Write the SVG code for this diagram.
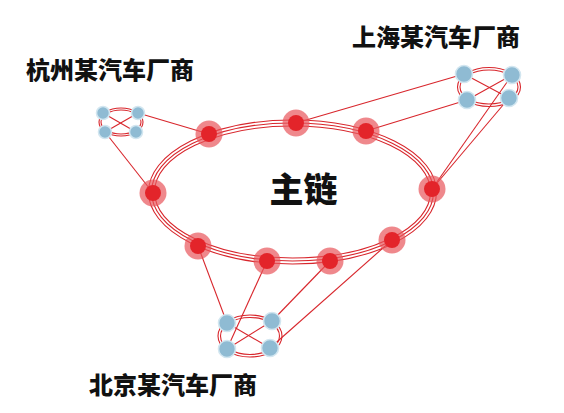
<svg xmlns="http://www.w3.org/2000/svg" width="564" height="413" viewBox="0 0 564 413">
<style>
.ln{stroke:#d8262c;stroke-width:1.1;fill:none}
.ring{stroke:#d8262c;stroke-width:1.1;fill:none}
.halo{fill:#e8555b;fill-opacity:0.7}
.core{fill:#e3242a}
.blue{fill:#8fbbd3;stroke:#d2e6f0;stroke-width:1.6}
.lbl{font-family:"Noto Sans CJK SC","Noto Sans CJK JP",sans-serif;font-weight:900;fill:#111}
</style>
<rect width="564" height="413" fill="#fff"/>
<g id="connectors">
<line class="ln" x1="138" y1="113" x2="209" y2="134"/>
<line class="ln" x1="105" y1="132" x2="153" y2="193"/>
<line class="ln" x1="464" y1="74" x2="296" y2="123"/>
<line class="ln" x1="467" y1="100" x2="366" y2="131"/>
<line class="ln" x1="512" y1="75" x2="432" y2="189"/>
<line class="ln" x1="509" y1="98" x2="432" y2="189"/>
<line class="ln" x1="227" y1="323" x2="198" y2="246"/>
<line class="ln" x1="227" y1="349" x2="267" y2="261"/>
<line class="ln" x1="272" y1="321" x2="330" y2="261"/>
<line class="ln" x1="270" y1="348" x2="392" y2="240"/>
</g>
<g id="main-chain">
<ellipse class="ring" cx="292.5" cy="192" rx="138" ry="66"/>
<ellipse class="ring" cx="292.5" cy="192" rx="141" ry="69"/>
<ellipse class="ring" cx="292.5" cy="192" rx="144" ry="72"/>
<g id="n1"><circle class="halo" cx="209" cy="134" r="13.5"/><circle class="core" cx="209" cy="134" r="8"/></g>
<g id="n2"><circle class="halo" cx="296" cy="123" r="13.5"/><circle class="core" cx="296" cy="123" r="8"/></g>
<g id="n3"><circle class="halo" cx="366" cy="131" r="13.5"/><circle class="core" cx="366" cy="131" r="8"/></g>
<g id="n4"><circle class="halo" cx="432" cy="189" r="13.5"/><circle class="core" cx="432" cy="189" r="8"/></g>
<g id="n5"><circle class="halo" cx="392" cy="240" r="13.5"/><circle class="core" cx="392" cy="240" r="8"/></g>
<g id="n6"><circle class="halo" cx="330" cy="261" r="13.5"/><circle class="core" cx="330" cy="261" r="8"/></g>
<g id="n7"><circle class="halo" cx="267" cy="261" r="13.5"/><circle class="core" cx="267" cy="261" r="8"/></g>
<g id="n8"><circle class="halo" cx="198" cy="246" r="13.5"/><circle class="core" cx="198" cy="246" r="8"/></g>
<g id="n9"><circle class="halo" cx="153" cy="193" r="13.5"/><circle class="core" cx="153" cy="193" r="8"/></g>
<text class="lbl" x="303.5" y="202" font-size="34" text-anchor="middle">主链</text>
</g>
<g id="hangzhou">
<ellipse class="ring" cx="121" cy="122" rx="20" ry="12"/>
<ellipse class="ring" cx="121" cy="122" rx="22" ry="14"/>
<line class="ln" x1="103" y1="113" x2="136" y2="132"/>
<line class="ln" x1="138" y1="113" x2="105" y2="132"/>
<circle class="blue" cx="103" cy="113" r="6.5"/>
<circle class="blue" cx="138" cy="113" r="6.5"/>
<circle class="blue" cx="105" cy="132" r="6.5"/>
<circle class="blue" cx="136" cy="132" r="6.5"/>
<text class="lbl" x="26" y="79" font-size="24">杭州某汽车厂商</text>
</g>
<g id="shanghai">
<ellipse class="ring" cx="489" cy="87" rx="29" ry="17"/>
<ellipse class="ring" cx="489" cy="87" rx="31.5" ry="19.5"/>
<line class="ln" x1="464" y1="74" x2="509" y2="98"/>
<line class="ln" x1="512" y1="75" x2="467" y2="100"/>
<circle class="blue" cx="464" cy="74" r="8.5"/>
<circle class="blue" cx="512" cy="75" r="8.5"/>
<circle class="blue" cx="467" cy="100" r="8.5"/>
<circle class="blue" cx="509" cy="98" r="8.5"/>
<text class="lbl" x="352" y="46" font-size="24">上海某汽车厂商</text>
</g>
<g id="beijing">
<ellipse class="ring" cx="250" cy="336" rx="29.5" ry="18.5"/>
<ellipse class="ring" cx="250" cy="336" rx="32" ry="21"/>
<line class="ln" x1="227" y1="323" x2="270" y2="348"/>
<line class="ln" x1="272" y1="321" x2="227" y2="349"/>
<circle class="blue" cx="227" cy="323" r="8.5"/>
<circle class="blue" cx="272" cy="321" r="8.5"/>
<circle class="blue" cx="227" cy="349" r="8.5"/>
<circle class="blue" cx="270" cy="348" r="8.5"/>
<text class="lbl" x="89" y="394" font-size="24">北京某汽车厂商</text>
</g>
</svg>
